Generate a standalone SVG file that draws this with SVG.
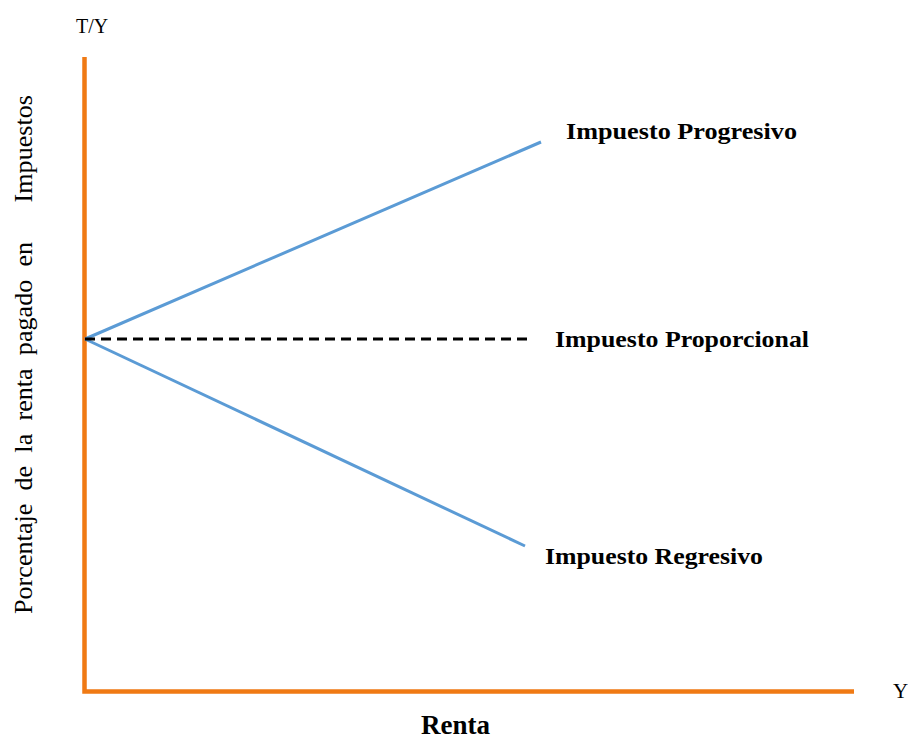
<svg xmlns="http://www.w3.org/2000/svg" width="908" height="738" viewBox="0 0 908 738">
<style>
.axis{stroke:#F07A14;stroke-width:4.5;fill:none}
.curve{stroke:#5B9BD5;stroke-width:3;fill:none}
.dash{stroke:#000;stroke-width:3;stroke-dasharray:10 6;fill:none}
.lbl{font-family:"Liberation Serif","Times New Roman",serif;font-weight:bold;font-size:24px;fill:#000}
.reg{font-family:"Liberation Serif","Times New Roman",serif;font-size:20px;fill:#000}
</style>
<rect width="908" height="738" fill="#fff"/>
<g id="axes">
<path class="axis" d="M84.5,57 L84.5,691.5 L854,691.5"/>
</g>
<g id="connectors">
<line class="curve" x1="85" y1="339" x2="541" y2="142"/>
<line class="curve" x1="85" y1="339" x2="525" y2="546"/>
<line class="dash" x1="85" y1="339" x2="528" y2="339"/>
</g>
<g id="label-progresivo"><text class="lbl" x="566" y="139" textLength="231" lengthAdjust="spacingAndGlyphs">Impuesto Progresivo</text></g>
<g id="label-proporcional"><text class="lbl" x="555" y="347" textLength="254" lengthAdjust="spacingAndGlyphs">Impuesto Proporcional</text></g>
<g id="label-regresivo"><text class="lbl" x="545" y="564" textLength="218" lengthAdjust="spacingAndGlyphs">Impuesto Regresivo</text></g>
<g id="axis-labels">
<text class="reg" x="76" y="33">T/Y</text>
<text class="reg" x="893" y="698" style="font-size:21px">Y</text>
<text class="lbl" x="421" y="734" style="font-size:27px">Renta</text>
<text class="reg" style="font-size:26px" transform="translate(32,614) rotate(-90)" textLength="519" lengthAdjust="spacing" xml:space="preserve">Porcentaje  de  la  renta  pagado  en      Impuestos</text>
</g>
</svg>
